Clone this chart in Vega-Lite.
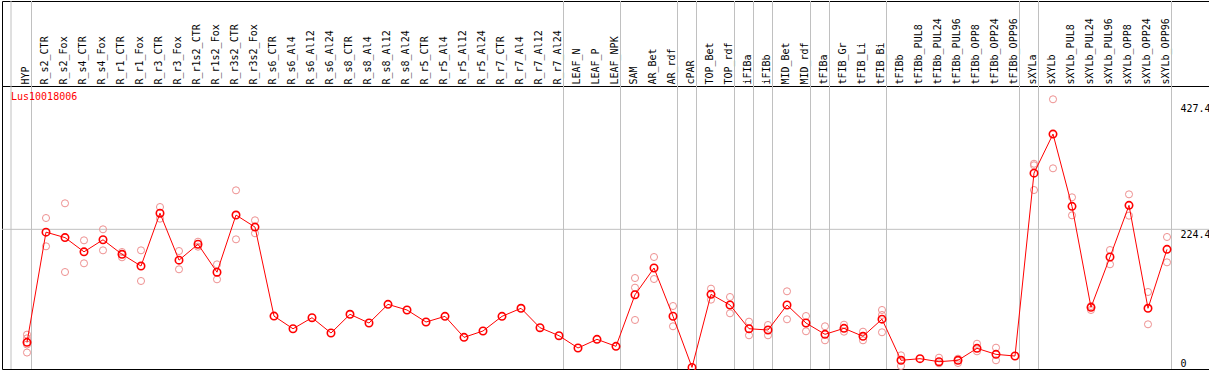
{
  "$schema": "https://vega.github.io/schema/vega-lite/v6.json",
  "padding": {"left": 1, "top": 0, "right": 1, "bottom": 2},
  "spacing": 0,
  "bounds": "flush",
  "background": "white",
  "datasets": {
    "means": [
      {"sample": "HYP", "value": 41.5},
      {"sample": "R_s2_CTR", "value": 219.8},
      {"sample": "R_s2_Fox", "value": 211},
      {"sample": "R_s4_CTR", "value": 188},
      {"sample": "R_s4_Fox", "value": 207.5},
      {"sample": "R_r1_CTR", "value": 184},
      {"sample": "R_r1_Fox", "value": 165},
      {"sample": "R_r3_CTR", "value": 250.5},
      {"sample": "R_r3_Fox", "value": 174.5},
      {"sample": "R_r1s2_CTR", "value": 200.3},
      {"sample": "R_r1s2_Fox", "value": 155},
      {"sample": "R_r3s2_CTR", "value": 247.5},
      {"sample": "R_r3s2_Fox", "value": 228},
      {"sample": "R_s6_CTR", "value": 84},
      {"sample": "R_s6_Al4", "value": 63.5},
      {"sample": "R_s6_Al12", "value": 81.4},
      {"sample": "R_s6_Al24", "value": 56.6},
      {"sample": "R_s8_CTR", "value": 86.9},
      {"sample": "R_s8_Al4", "value": 72.8},
      {"sample": "R_s8_Al12", "value": 103},
      {"sample": "R_s8_Al24", "value": 93.9},
      {"sample": "R_r5_CTR", "value": 74.4},
      {"sample": "R_r5_Al4", "value": 83.6},
      {"sample": "R_r5_Al12", "value": 49.6},
      {"sample": "R_r5_Al24", "value": 59.9},
      {"sample": "R_r7_CTR", "value": 83.6},
      {"sample": "R_r7_Al4", "value": 96.6},
      {"sample": "R_r7_Al12", "value": 65.2},
      {"sample": "R_r7_Al24", "value": 52.3},
      {"sample": "LEAF_N", "value": 32.4},
      {"sample": "LEAF_P", "value": 46.4},
      {"sample": "LEAF_NPK", "value": 35.1},
      {"sample": "SAM", "value": 118.5},
      {"sample": "AR_Bet", "value": 161.8},
      {"sample": "AR_rdf", "value": 83.8},
      {"sample": "cPAR", "value": 1},
      {"sample": "TOP_Bet", "value": 119.2},
      {"sample": "TOP_rdf", "value": 101.9},
      {"sample": "iFIBa", "value": 63.6},
      {"sample": "iFIBb", "value": 61.5},
      {"sample": "MID_Bet", "value": 101.9},
      {"sample": "MID_rdf", "value": 72.8},
      {"sample": "tFIBa", "value": 54.5},
      {"sample": "tFIB_Gr", "value": 64.2},
      {"sample": "tFIB_Li", "value": 51.3},
      {"sample": "tFIB_Bi", "value": 79},
      {"sample": "tFIBb", "value": 12.5},
      {"sample": "tFIBb_PUL8", "value": 15.1},
      {"sample": "tFIBb_PUL24", "value": 10.2},
      {"sample": "tFIBb_PUL96", "value": 12.5},
      {"sample": "tFIBb_OPP8", "value": 31.8},
      {"sample": "tFIBb_OPP24", "value": 22.1},
      {"sample": "tFIBb_OPP96", "value": 19.4},
      {"sample": "sXYLa", "value": 315.3},
      {"sample": "sXYLb", "value": 378.5},
      {"sample": "sXYLb_PUL8", "value": 261.6},
      {"sample": "sXYLb_PUL24", "value": 98.2},
      {"sample": "sXYLb_PUL96", "value": 179.6},
      {"sample": "sXYLb_OPP8", "value": 263.2},
      {"sample": "sXYLb_OPP24", "value": 96.6},
      {"sample": "sXYLb_OPP96", "value": 192}
    ],
    "reps": [
      {"sample": "HYP", "value": 54}, {"sample": "HYP", "value": 48}, {"sample": "HYP", "value": 38}, {"sample": "HYP", "value": 25},
      {"sample": "R_s2_CTR", "value": 242.7}, {"sample": "R_s2_CTR", "value": 196.9},
      {"sample": "R_s2_Fox", "value": 266.5}, {"sample": "R_s2_Fox", "value": 155.3},
      {"sample": "R_s4_CTR", "value": 206.6}, {"sample": "R_s4_CTR", "value": 169.4},
      {"sample": "R_s4_Fox", "value": 224.4}, {"sample": "R_s4_Fox", "value": 190.4},
      {"sample": "R_r1_CTR", "value": 187.7}, {"sample": "R_r1_CTR", "value": 179.1},
      {"sample": "R_r1_Fox", "value": 190.4}, {"sample": "R_r1_Fox", "value": 140.8},
      {"sample": "R_r3_CTR", "value": 260.5}, {"sample": "R_r3_CTR", "value": 241.6},
      {"sample": "R_r3_Fox", "value": 189.3}, {"sample": "R_r3_Fox", "value": 159.7},
      {"sample": "R_r1s2_CTR", "value": 204.4}, {"sample": "R_r1s2_CTR", "value": 196.3},
      {"sample": "R_r1s2_Fox", "value": 167.7}, {"sample": "R_r1s2_Fox", "value": 143.5},
      {"sample": "R_r3s2_CTR", "value": 287.5}, {"sample": "R_r3s2_CTR", "value": 208.2},
      {"sample": "R_r3s2_Fox", "value": 239}, {"sample": "R_r3s2_Fox", "value": 218},
      {"sample": "SAM", "value": 145.6}, {"sample": "SAM", "value": 130}, {"sample": "SAM", "value": 77.7},
      {"sample": "AR_Bet", "value": 179.6}, {"sample": "AR_Bet", "value": 144},
      {"sample": "AR_rdf", "value": 100.3}, {"sample": "AR_rdf", "value": 67.5},
      {"sample": "TOP_Bet", "value": 128.4}, {"sample": "TOP_Bet", "value": 110.6},
      {"sample": "TOP_rdf", "value": 114.9}, {"sample": "TOP_rdf", "value": 88.5},
      {"sample": "iFIBa", "value": 75}, {"sample": "iFIBa", "value": 52.9},
      {"sample": "iFIBb", "value": 69.6}, {"sample": "iFIBb", "value": 52.9},
      {"sample": "MID_Bet", "value": 124.1}, {"sample": "MID_Bet", "value": 78.8},
      {"sample": "MID_rdf", "value": 84.1}, {"sample": "MID_rdf", "value": 59.4},
      {"sample": "tFIBa", "value": 67.5}, {"sample": "tFIBa", "value": 44.8},
      {"sample": "tFIB_Gr", "value": 70.1}, {"sample": "tFIB_Gr", "value": 58.8},
      {"sample": "tFIB_Li", "value": 58.8}, {"sample": "tFIB_Li", "value": 44.8},
      {"sample": "tFIB_Bi", "value": 93.9}, {"sample": "tFIB_Bi", "value": 85.8}, {"sample": "tFIB_Bi", "value": 57.8},
      {"sample": "tFIBb", "value": 20.5}, {"sample": "tFIBb", "value": 3.2},
      {"sample": "tFIBb_PUL24", "value": 16.7}, {"sample": "tFIBb_PUL24", "value": 7.6},
      {"sample": "tFIBb_PUL96", "value": 15.1}, {"sample": "tFIBb_PUL96", "value": 8.1},
      {"sample": "tFIBb_OPP8", "value": 39.3}, {"sample": "tFIBb_OPP8", "value": 27},
      {"sample": "tFIBb_OPP24", "value": 32.9}, {"sample": "tFIBb_OPP24", "value": 12.5},
      {"sample": "sXYLa", "value": 330.5}, {"sample": "sXYLa", "value": 328}, {"sample": "sXYLa", "value": 288},
      {"sample": "sXYLb", "value": 434.8}, {"sample": "sXYLb", "value": 323.1},
      {"sample": "sXYLb_PUL8", "value": 276.2}, {"sample": "sXYLb_PUL8", "value": 247},
      {"sample": "sXYLb_PUL24", "value": 100.3}, {"sample": "sXYLb_PUL24", "value": 93.9},
      {"sample": "sXYLb_PUL96", "value": 190.9}, {"sample": "sXYLb_PUL96", "value": 167.8},
      {"sample": "sXYLb_OPP8", "value": 281}, {"sample": "sXYLb_OPP8", "value": 246.5},
      {"sample": "sXYLb_OPP24", "value": 123}, {"sample": "sXYLb_OPP24", "value": 70.7},
      {"sample": "sXYLb_OPP96", "value": 212}, {"sample": "sXYLb_OPP96", "value": 171}
    ],
    "seps": [
      {"sample": "HYP"}, {"sample": "R_r7_Al24"}, {"sample": "LEAF_NPK"}, {"sample": "AR_rdf"},
      {"sample": "cPAR"}, {"sample": "TOP_rdf"}, {"sample": "iFIBa"}, {"sample": "iFIBb"},
      {"sample": "MID_rdf"}, {"sample": "tFIBa"}, {"sample": "tFIB_Bi"}, {"sample": "tFIBb_OPP96"},
      {"sample": "sXYLa"}, {"sample": "sXYLb_OPP96"}
    ],
    "edge": [{"sample": "HYP"}]
  },
  "vconcat": [
    {
      "width": 1207,
      "height": 85,
      "layer": [
        {
          "data": {"name": "seps"},
          "mark": {"type": "rule", "color": "#C0C0C0", "xOffset": 4.5},
          "encoding": {
            "x": {
              "field": "sample", "type": "nominal",
              "scale": {"type": "point", "padding": 0, "range": [25, 1165],
                "domain": ["HYP","R_s2_CTR","R_s2_Fox","R_s4_CTR","R_s4_Fox","R_r1_CTR","R_r1_Fox","R_r3_CTR","R_r3_Fox","R_r1s2_CTR","R_r1s2_Fox","R_r3s2_CTR","R_r3s2_Fox","R_s6_CTR","R_s6_Al4","R_s6_Al12","R_s6_Al24","R_s8_CTR","R_s8_Al4","R_s8_Al12","R_s8_Al24","R_r5_CTR","R_r5_Al4","R_r5_Al12","R_r5_Al24","R_r7_CTR","R_r7_Al4","R_r7_Al12","R_r7_Al24","LEAF_N","LEAF_P","LEAF_NPK","SAM","AR_Bet","AR_rdf","cPAR","TOP_Bet","TOP_rdf","iFIBa","iFIBb","MID_Bet","MID_rdf","tFIBa","tFIB_Gr","tFIB_Li","tFIB_Bi","tFIBb","tFIBb_PUL8","tFIBb_PUL24","tFIBb_PUL96","tFIBb_OPP8","tFIBb_OPP24","tFIBb_OPP96","sXYLa","sXYLb","sXYLb_PUL8","sXYLb_PUL24","sXYLb_PUL96","sXYLb_OPP8","sXYLb_OPP24","sXYLb_OPP96"]},
              "axis": {"orient": "top", "offset": -85, "labelAngle": 270, "labelAlign": "left", "labelBaseline": "middle",
                "labelPadding": 2, "labelOffset": -2, "domain": false, "ticks": false, "grid": false, "title": null,
                "labelFont": "DejaVu Sans Mono", "labelFontSize": 10, "labelColor": "black", "labelOverlap": false, "labelLimit": 0}
            }
          }
        },
        {
          "data": {"name": "edge"},
          "mark": {"type": "rule", "color": "#C0C0C0", "xOffset": -16},
          "encoding": {
            "x": {"field": "sample", "type": "nominal"}
          }
        }
      ]
    },
    {
      "width": 1207,
      "height": 283,
      "title": {"text": "Lus10018006", "anchor": "start", "offset": -16, "dx": 9, "color": "red",
        "font": "DejaVu Sans Mono", "fontSize": 10, "fontWeight": "normal", "frame": "group"},
      "encoding": {
        "x": {
          "field": "sample", "type": "nominal", "axis": null,
          "scale": {"type": "point", "padding": 0, "range": [25, 1165],
            "domain": ["HYP","R_s2_CTR","R_s2_Fox","R_s4_CTR","R_s4_Fox","R_r1_CTR","R_r1_Fox","R_r3_CTR","R_r3_Fox","R_r1s2_CTR","R_r1s2_Fox","R_r3s2_CTR","R_r3s2_Fox","R_s6_CTR","R_s6_Al4","R_s6_Al12","R_s6_Al24","R_s8_CTR","R_s8_Al4","R_s8_Al12","R_s8_Al24","R_r5_CTR","R_r5_Al4","R_r5_Al12","R_r5_Al24","R_r7_CTR","R_r7_Al4","R_r7_Al12","R_r7_Al24","LEAF_N","LEAF_P","LEAF_NPK","SAM","AR_Bet","AR_rdf","cPAR","TOP_Bet","TOP_rdf","iFIBa","iFIBb","MID_Bet","MID_rdf","tFIBa","tFIB_Gr","tFIB_Li","tFIB_Bi","tFIBb","tFIBb_PUL8","tFIBb_PUL24","tFIBb_PUL96","tFIBb_OPP8","tFIBb_OPP24","tFIBb_OPP96","sXYLa","sXYLb","sXYLb_PUL8","sXYLb_PUL24","sXYLb_PUL96","sXYLb_OPP8","sXYLb_OPP24","sXYLb_OPP96"]}
        }
      },
      "layer": [
        {
          "data": {"name": "seps"},
          "mark": {"type": "rule", "color": "#C0C0C0", "xOffset": 4.5},
          "encoding": {}
        },
        {
          "data": {"name": "edge"},
          "mark": {"type": "rule", "color": "#C0C0C0", "xOffset": -16},
          "encoding": {}
        },
        {
          "data": {"values": [{"level": 224.4}]},
          "mark": {"type": "rule", "color": "#C0C0C0"},
          "encoding": {
            "x": null,
            "y": {"field": "level", "type": "quantitative",
              "scale": {"domain": [-1.6, 456.3], "nice": false, "zero": false},
              "axis": {"orient": "right", "offset": -31, "values": [0, 224.4, 427.4], "format": ".1~f",
                "domain": false, "ticks": false, "grid": false, "labelPadding": 2, "labelAlign": "left",
                "labelBaseline": {"condition": {"test": "datum.value === 0", "value": "bottom"}, "value": "top"},
                "labelFont": "DejaVu Sans Mono", "labelFontSize": 10, "labelColor": "black", "labelOverlap": false, "title": null}
            }
          }
        },
        {
          "data": {"name": "reps"},
          "mark": {"type": "point", "shape": "circle", "filled": false, "color": "#EE9090", "strokeWidth": 1, "size": 50, "opacity": 1},
          "encoding": {
            "y": {"field": "value", "type": "quantitative"}
          }
        },
        {
          "data": {"name": "means"},
          "mark": {"type": "line", "color": "red", "strokeWidth": 1},
          "encoding": {
            "y": {"field": "value", "type": "quantitative"},
            "order": {"value": null}
          }
        },
        {
          "data": {"name": "means"},
          "mark": {"type": "point", "shape": "circle", "filled": false, "color": "red", "strokeWidth": 1.6, "size": 55, "opacity": 1},
          "encoding": {
            "y": {"field": "value", "type": "quantitative"}
          }
        }
      ]
    }
  ],
  "config": {
    "view": {"stroke": "black", "strokeWidth": 1},
    "font": "DejaVu Sans Mono"
  }
}
